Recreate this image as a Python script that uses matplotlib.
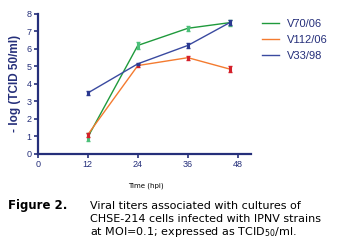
import matplotlib
matplotlib.use("Agg")
import matplotlib.pyplot as plt

# data
hours = [12, 24, 36, 46]
v70 = [0.95, 6.2, 7.18, 7.5]
v70_err = [0.22, 0.18, 0.14, 0.18]
v112 = [1.1, 5.05, 5.5, 4.85]
v112_err = [0.12, 0.1, 0.12, 0.18]
v33 = [3.48, 5.15, 6.2, 7.5]
v33_err = [0.12, 0.06, 0.14, 0.14]

navy = "#252f7a"
plt.rcParams["font.family"] = ["Liberation Sans", "DejaVu Sans"]

fig = plt.figure(figsize=(3.39, 2.44), dpi=100)
ax = fig.add_axes([0.111, 0.369, 0.628, 0.574])

series = [
    ("V70/06", v70, v70_err, "#1f9a3c", "#4cc07a"),
    ("V112/06", v112, v112_err, "#f47b30", "#d4202a"),
    ("V33/98", v33, v33_err, "#3a4aa0", "#2b3990"),
]
for name, y, e, lc, mc in series:
    ax.plot(hours, y, color=lc, lw=1.0, label=name)
    ax.errorbar(hours, y, yerr=e, fmt="none", ecolor=mc,
                elinewidth=2.2, capsize=1.2, capthick=1.0)

ax.set_xlim(0, 51)
ax.set_ylim(0, 8)
ax.set_xticks([0, 12, 24, 36, 48])
ax.set_yticks(range(9))
for s in ["top", "right"]:
    ax.spines[s].set_visible(False)
for s in ["left", "bottom"]:
    ax.spines[s].set_color(navy)
    ax.spines[s].set_linewidth(1.6)
ax.tick_params(colors=navy, labelsize=6.5, length=3, width=1.2, pad=1.5)
ax.set_ylabel("- log (TCID 50/ml)", fontsize=8.5, fontweight="bold",
              color=navy, labelpad=3.5)

leg = ax.legend(loc="upper left", bbox_to_anchor=(1.035, 0.995), frameon=False,
                fontsize=8, handlelength=1.5, labelspacing=0.55,
                handletextpad=0.7, borderaxespad=0)
for t in leg.get_texts():
    t.set_color(navy)

fig.text(0.43, 0.238, "Time (hpi)", fontsize=5, ha="center", va="center",
         family="DejaVu Sans")

fig.text(0.024, 0.156, "Figure 2.", fontsize=8.5, fontweight="bold",
         va="center", family="DejaVu Sans")
cap = ["Viral titers associated with cultures of",
       "CHSE-214 cells infected with IPNV strains",
       "at MOI=0.1; expressed as TCID$_{50}$/ml."]
for i, line in enumerate(cap):
    fig.text(0.265, 0.156 - i * 0.0535, line, fontsize=8, va="center",
             family="DejaVu Sans")

fig.savefig("out.png", dpi=100)
